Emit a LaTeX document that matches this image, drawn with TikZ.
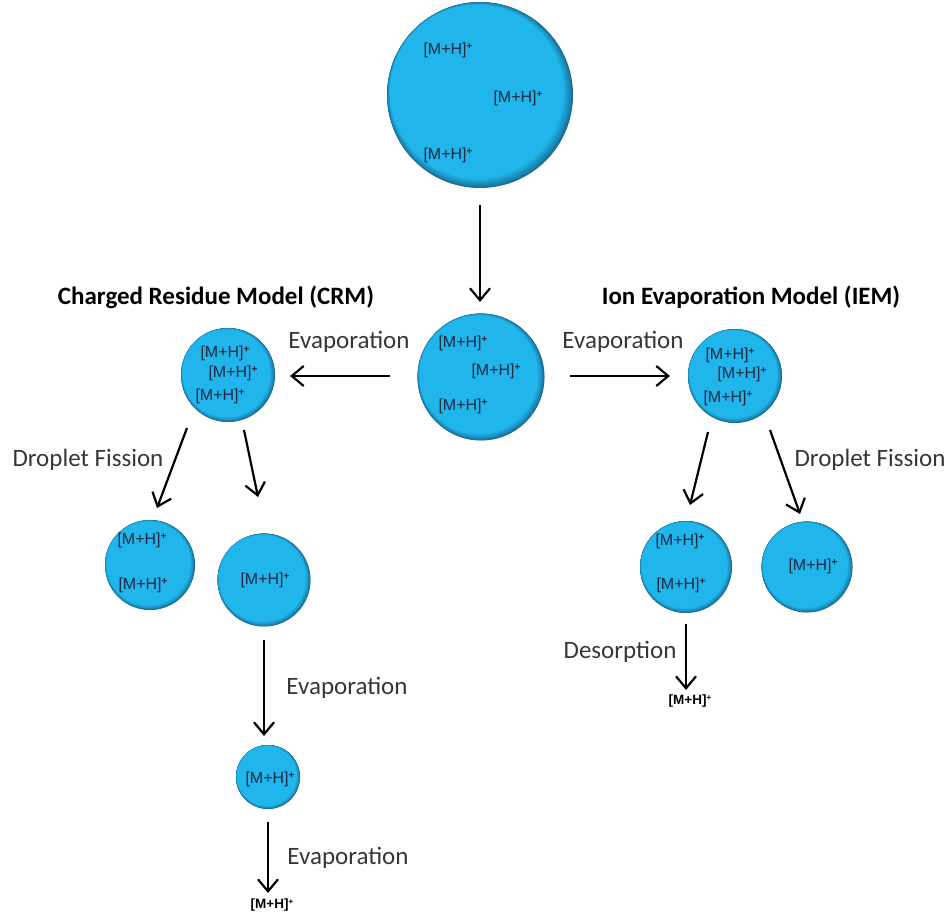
\documentclass[tikz,border=0pt]{standalone}
\usepackage{fontspec}
\setmainfont{Carlito}
\newfontfamily\arialf{Liberation Sans}
\usetikzlibrary{arrows.meta}
\definecolor{lblc}{HTML}{1A2942}
\definecolor{txtc}{HTML}{363636}
\definecolor{sphB}{HTML}{20B6EC}
\definecolor{sphE}{HTML}{17688F}
\tikzset{
  dropbase/.style={circle, minimum size=#1, inner sep=0pt, fill=sphE},
  ion/.style={font=\arialf\fontsize{16}{17}\selectfont, text=lblc, inner sep=0pt},
  ionb/.style={font=\arialf\bfseries\fontsize{13.5}{14}\selectfont, text=black, inner sep=1pt},
  lab/.style={font=\fontsize{25}{27}\selectfont, text=txtc, inner sep=0pt},
  ttl/.style={font=\bfseries\fontsize{25}{27}\selectfont, text=black, inner sep=0pt},
  arr/.style={line width=2.2pt, -{Straight Barb[length=12pt,width=20pt,line width=2.2pt]}}
}
\newcommand{\ionlbl}{[M+H]\raisebox{0.5ex}{\fontsize{10}{10}\selectfont\bfseries +}}
\newcommand{\ionfree}{[M+H]\raisebox{0.55ex}{\fontsize{8}{8}\selectfont +}}
% #1 name, #2 x, #3 y, #4 radius
\newcommand{\mydrop}[4]{%
  \node[dropbase=2*#4 pt] (#1) at (#2,#3) {};
  \foreach \k in {1,...,20}{%
    \pgfmathsetmacro\rr{#4*(1-0.0035*\k)}%
    \pgfmathsetmacro\ss{#4*0.0018*\k}%
    \pgfmathsetmacro\pc{100*(\k/20)^0.8}%
    \fill[sphB!\pc!sphE] ([shift={(-\ss,-\ss)}]#1.center) circle[radius=\rr pt];
  }%
}
\begin{document}
\begin{tikzpicture}[x=1pt,y=-1pt]
\useasboundingbox (0,0) rectangle (949,912);
% spheres
\mydrop{s0}{480}{95}{93}
\mydrop{s1}{481}{377}{63.5}
\mydrop{sL}{228}{375}{47}
\mydrop{sR}{735}{376}{47}
\mydrop{sA}{150}{565}{45}
\mydrop{sB}{264}{580}{46.5}
\mydrop{sC}{686}{567}{46}
\mydrop{sD}{807}{567}{45.5}
\mydrop{sE}{268}{777}{32}
% ion labels
\node[ion] (i01) at (448,50) {\ionlbl};
\node[ion] (i02) at (518,98) {\ionlbl};
\node[ion] (i03) at (448,155) {\ionlbl};
\node[ion] (i11) at (463,343) {\ionlbl};
\node[ion] (i12) at (496,371) {\ionlbl};
\node[ion] (i13) at (463,406) {\ionlbl};
\node[ion] (iL1) at (225,353) {\ionlbl};
\node[ion] (iL2) at (233,373) {\ionlbl};
\node[ion] (iL3) at (220,396) {\ionlbl};
\node[ion] (iR1) at (730,355) {\ionlbl};
\node[ion] (iR2) at (742,374) {\ionlbl};
\node[ion] (iR3) at (728,398) {\ionlbl};
\node[ion] (iA1) at (142,540) {\ionlbl};
\node[ion] (iA2) at (143,585) {\ionlbl};
\node[ion] (iB1) at (265,580) {\ionlbl};
\node[ion] (iC1) at (680,541) {\ionlbl};
\node[ion] (iC2) at (681,585) {\ionlbl};
\node[ion] (iD1) at (813,566) {\ionlbl};
\node[ion] (iE1) at (270,779) {\ionlbl};
% free ions
\node[ionb] (fE) at (272,905) {\ionfree};
\node[ionb] (fC) at (690,701) {\ionfree};
% titles
\node[ttl] (tC) at (216,297) {Charged Residue Model (CRM)};
\node[ttl] (tI) at (751,297) {Ion Evaporation Model (IEM)};
% labels
\node[lab] (e1) at (349,342) {Evaporation};
\node[lab] (e2) at (623,342) {Evaporation};
\node[lab] (e3) at (347,688) {Evaporation};
\node[lab] (e4) at (348,858) {Evaporation};
\node[lab] (d1) at (88,460) {Droplet Fission};
\node[lab] (d2) at (870,460) {Droplet Fission};
\node[lab] (ds) at (620,652) {Desorption};
% connector anchors
\coordinate (a0s) at (480,205); \coordinate (a0e) at (480,302);
\coordinate (aLs) at (390,376); \coordinate (aLe) at (290,376);
\coordinate (aRs) at (570,376); \coordinate (aRe) at (670,376);
\coordinate (f1s) at (187,428); \coordinate (f1e) at (157,508);
\coordinate (f2s) at (244,430); \coordinate (f2e) at (258,497);
\coordinate (f3s) at (708,432); \coordinate (f3e) at (690,505);
\coordinate (f4s) at (770,430); \coordinate (f4e) at (800,514);
\coordinate (bBs) at (264,640); \coordinate (bBe) at (264,736);
\coordinate (bEs) at (268,822); \coordinate (bEe) at (268,893);
\coordinate (bCs) at (686,624); \coordinate (bCe) at (686,690);
% arrows
\draw[arr] (a0s) -- (a0e);
\draw[arr] (aLs) -- (aLe);
\draw[arr] (aRs) -- (aRe);
\draw[arr] (f1s) -- (f1e);
\draw[arr] (f2s) -- (f2e);
\draw[arr] (f3s) -- (f3e);
\draw[arr] (f4s) -- (f4e);
\draw[arr] (bBs) -- (bBe);
\draw[arr] (bEs) -- (bEe);
\draw[arr] (bCs) -- (bCe);
\end{tikzpicture}
\end{document}
